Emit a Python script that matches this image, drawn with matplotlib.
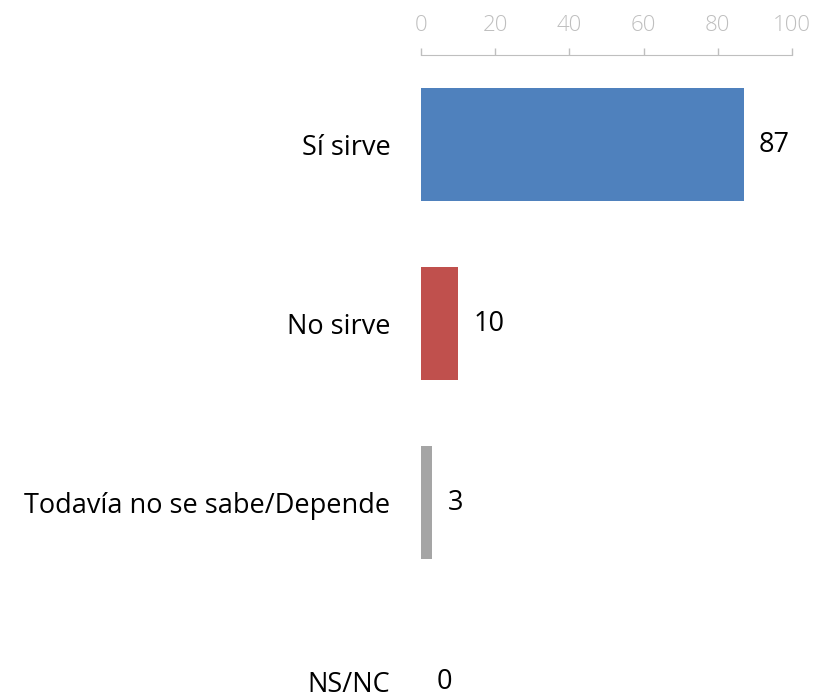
import matplotlib.pyplot as plt

categories = ["Sí sirve", "No sirve", "Todavía no se sabe/Depende", "NS/NC"]
values = [87, 10, 3, 0]
colors = ["#4F81BD", "#C0504D", "#A5A5A5", "#A5A5A5"]

plt.rcParams['font.family'] = ['Open Sans', 'DejaVu Sans']

fig = plt.figure(figsize=(8.15, 6.98), dpi=100)
ax = fig.add_axes([421 / 815, 0, 371 / 815, 1 - 55 / 698])

pos = range(len(categories))
ax.barh(pos, values, height=0.63, color=colors)
ax.set_xlim(0, 100)
ax.set_ylim(3.09, -0.5)

for p, v in zip(pos, values):
    ax.annotate(str(v), (v, p), xytext=(11, 0), textcoords="offset points",
                va="center", ha="left", fontsize=19.5, color="#000000")

ax.set_yticks(list(pos))
ax.set_yticklabels(categories, fontsize=19.5)
ax.tick_params(axis="y", length=0, pad=22)

ax.xaxis.tick_top()
ax.set_xticks(range(0, 101, 20))
ax.tick_params(axis="x", colors="#BFBFBF", labelcolor="#BFBFBF", labelsize=16,
               length=5, width=1, pad=9)
for lbl in ax.get_xticklabels():
    lbl.set_fontweight("light")
for s in ["bottom", "left", "right"]:
    ax.spines[s].set_visible(False)
ax.spines["top"].set_color("#BFBFBF")

fig.savefig("out.png", dpi=100)
